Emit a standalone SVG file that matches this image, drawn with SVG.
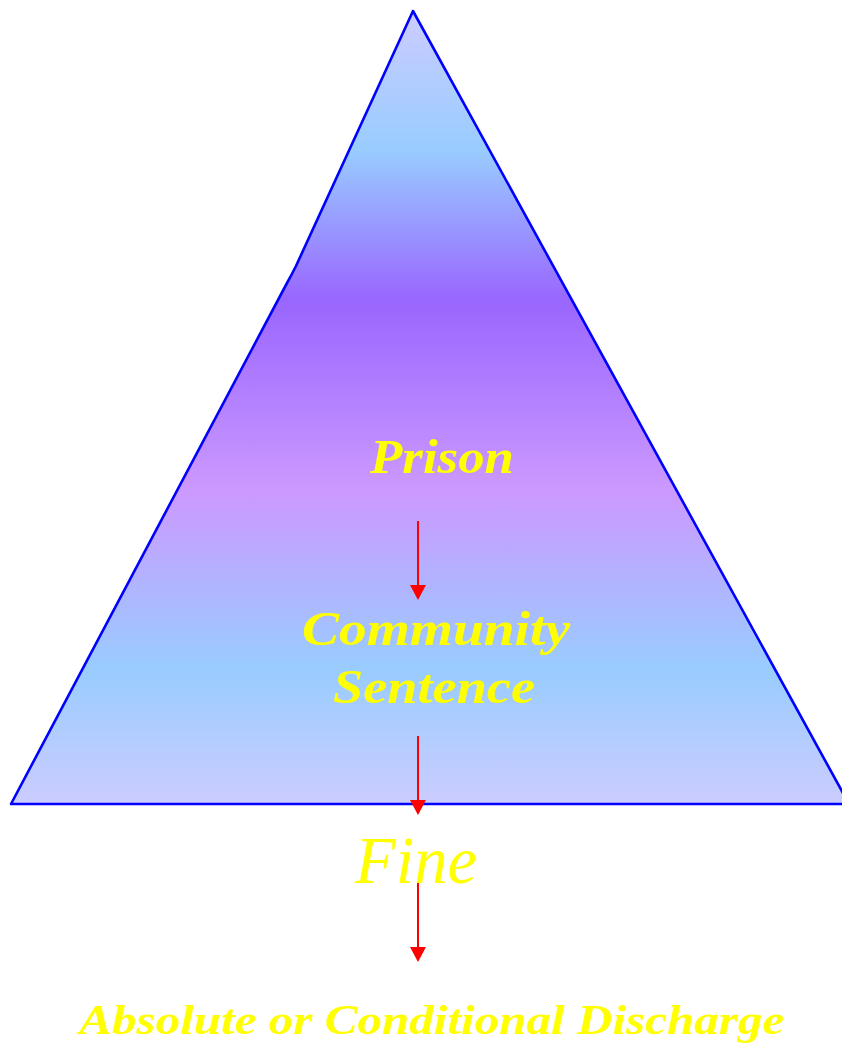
<svg xmlns="http://www.w3.org/2000/svg" width="842" height="1043" viewBox="0 0 842 1043">
  <defs>
    <linearGradient id="tri" x1="0" y1="11" x2="0" y2="804" gradientUnits="userSpaceOnUse">
      <stop offset="0" stop-color="#CCCCFF"/>
      <stop offset="0.175" stop-color="#99CCFF"/>
      <stop offset="0.365" stop-color="#9966FF"/>
      <stop offset="0.605" stop-color="#CC99FF"/>
      <stop offset="0.83" stop-color="#99CCFF"/>
      <stop offset="1" stop-color="#CCCCFF"/>
    </linearGradient>
    <style>
      .lbl { font-family: "Liberation Serif", "Times New Roman", serif; font-style: italic; font-weight: bold; fill: #FFFF00; text-anchor: middle; }
      .fine { font-family: "Liberation Serif", "Times New Roman", serif; font-style: italic; fill: #FFFF00; text-anchor: middle; }
      .arr { stroke: #FF0000; stroke-width: 2; fill: none; }
      .head { fill: #FF0000; }
    </style>
  </defs>

  <g id="pyramid">
    <path d="M413,11 L296,266 Q292,274 287,283 L11,804 L849,804 Z" fill="url(#tri)" stroke="#0000FF" stroke-width="2.6" stroke-linejoin="round"/>
  </g>

  <g id="prison">
    <text class="lbl" x="442" y="473" font-size="48" textLength="144" lengthAdjust="spacingAndGlyphs">Prison</text>
  </g>
  <g id="community">
    <text class="lbl" x="436" y="645" font-size="48" textLength="268" lengthAdjust="spacingAndGlyphs">Community</text>
    <text class="lbl" x="434" y="703" font-size="48" textLength="202" lengthAdjust="spacingAndGlyphs">Sentence</text>
  </g>
  <g id="fine">
    <text class="fine" x="416" y="883" font-size="68" textLength="122" lengthAdjust="spacingAndGlyphs">Fine</text>
  </g>
  <g id="discharge">
    <text class="lbl" x="432" y="1034" font-size="42" textLength="705" lengthAdjust="spacingAndGlyphs">Absolute or Conditional Discharge</text>
  </g>

  <g id="connectors">
    <path class="arr" d="M418,521 L418,586"/>
    <path class="head" d="M410,585 L426,585 L418,600 Z"/>
    <path class="arr" d="M418,736 L418,801"/>
    <path class="head" d="M410,800 L426,800 L418,815 Z"/>
    <path class="arr" d="M418,883 L418,948"/>
    <path class="head" d="M410,947 L426,947 L418,962 Z"/>
  </g>
</svg>
